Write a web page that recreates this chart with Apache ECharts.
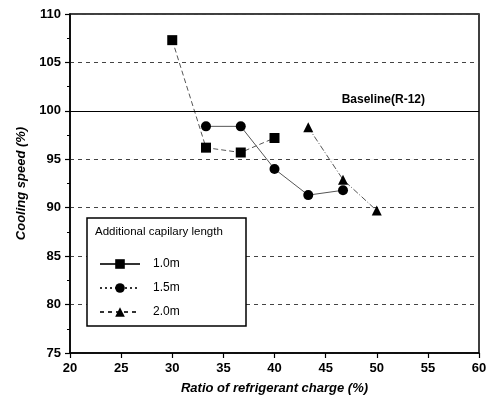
<!DOCTYPE html>
<html>
<head>
<meta charset="utf-8">
<script src="https://cdn.jsdelivr.net/npm/echarts@6/dist/echarts.min.js"></script>
<style>
    html, body { margin: 0; padding: 0; background: #fff; }
    #chart { width: 486px; height: 397px; }
</style>
</head>
<body>
<div id="chart"></div>
<script>
    // values
    var xTicks = [20, 25, 30, 35, 40, 45, 50, 55, 60];
    var yTicks = [75, 80, 85, 90, 95, 100, 105, 110];
    var seriesNames = ['1.0m', '1.5m', '2.0m'];
    var len10X = [30, 33.3, 36.7, 40];
    var len10Y = [107.3, 96.2, 95.7, 97.2];
    var len15X = [33.3, 36.7, 40, 43.3, 46.7];
    var len15Y = [98.4, 98.4, 94.0, 91.3, 91.8];
    var len20X = [43.3, 46.7, 50];
    var len20Y = [98.3, 92.9, 89.7];
    var baseline = 100;

    function pairs(xs, ys) {
        return xs.map(function (x, i) { return [x, ys[i]]; });
    }

    var chart = echarts.init(document.getElementById('chart'));
    var font = 'Liberation Sans, Arial, sans-serif';

    var lineBase = { color: '#555', width: 1 };

    var option = {
        animation: false,
        textStyle: { fontFamily: font },
        grid: {
            left: 70, right: 7, top: 14, bottom: 44,
            outerBoundsMode: 'none',
            show: true, borderColor: '#000', borderWidth: 1.5
        },
        xAxis: {
            type: 'value',
            min: xTicks[0], max: xTicks[xTicks.length - 1], interval: 5,
            name: 'Ratio of refrigerant charge (%)',
            nameLocation: 'middle', nameGap: 29,
            nameTextStyle: { color: '#000', fontSize: 13, fontWeight: 'bold', fontStyle: 'italic', fontFamily: font },
            axisLine: { lineStyle: { color: '#000', width: 1.5 } },
            axisTick: { inside: false, length: 5, lineStyle: { color: '#000', width: 1.2 } },
            axisLabel: { color: '#000', fontSize: 13, fontWeight: 'bold', margin: 9, fontFamily: font },
            splitLine: { show: false }
        },
        yAxis: {
            type: 'value',
            min: yTicks[0], max: yTicks[yTicks.length - 1], interval: 5,
            name: 'Cooling speed (%)',
            nameLocation: 'middle', nameGap: 34,
            nameTextStyle: { color: '#000', fontSize: 13, fontWeight: 'bold', fontStyle: 'italic', fontFamily: font },
            axisLine: { lineStyle: { color: '#000', width: 1.5 } },
            axisTick: { inside: false, length: 5, lineStyle: { color: '#000', width: 1.2 } },
            minorTick: { show: true, splitNumber: 2, length: 3, lineStyle: { color: '#000', width: 1 } },
            axisLabel: { color: '#000', fontSize: 13, fontWeight: 'bold', margin: 9, fontFamily: font },
            splitLine: { show: true, lineStyle: { color: '#444', width: 1, type: [4, 4] } }
        },
        legend: {
            orient: 'vertical',
            left: 94, top: 253,
            z: 20,
            itemWidth: 40, itemHeight: 12, itemGap: 12,
            textStyle: { color: '#000', fontSize: 12, fontFamily: font, padding: [0, 0, 0, 8] },
            data: [
                { name: seriesNames[0], lineStyle: { type: 'solid', color: '#333' } },
                { name: seriesNames[1], lineStyle: { type: [2, 3], color: '#333' } },
                { name: seriesNames[2], lineStyle: { type: [4, 4], color: '#333' } }
            ]
        },
        graphic: [
            {
                type: 'rect',
                shape: { x: 87, y: 218, width: 159, height: 108 },
                style: { fill: '#fff', stroke: '#000', lineWidth: 1.5 },
                z: 3
            },
            {
                type: 'text',
                left: 95, top: 226,
                style: { text: 'Additional capilary length', fill: '#000', font: '11.5px ' + font },
                z: 6
            }
        ],
        series: [
            {
                name: seriesNames[0], type: 'line',
                data: pairs(len10X, len10Y),
                symbol: 'rect', symbolSize: 10,
                itemStyle: { color: '#000' },
                lineStyle: Object.assign({ type: [5, 3] }, lineBase),
                markLine: {
                    silent: true, symbol: 'none',
                    lineStyle: { color: '#000', width: 1.2, type: 'solid' },
                    label: {
                        show: true, position: 'insideEndTop',
                        formatter: 'Baseline(R-12)',
                        color: '#000', fontSize: 12, fontWeight: 'bold', fontFamily: font,
                        distance: [54, 5]
                    },
                    data: [{ yAxis: baseline }]
                }
            },
            {
                name: seriesNames[1], type: 'line',
                data: pairs(len15X, len15Y),
                symbol: 'circle', symbolSize: 10,
                itemStyle: { color: '#000' },
                lineStyle: Object.assign({ type: 'solid' }, lineBase)
            },
            {
                name: seriesNames[2], type: 'line',
                data: pairs(len20X, len20Y),
                symbol: 'triangle', symbolSize: 10,
                itemStyle: { color: '#000' },
                lineStyle: Object.assign({ type: [6, 2, 1, 2] }, lineBase)
            }
        ]
    };

    chart.setOption(option);
</script>
</body>
</html>
